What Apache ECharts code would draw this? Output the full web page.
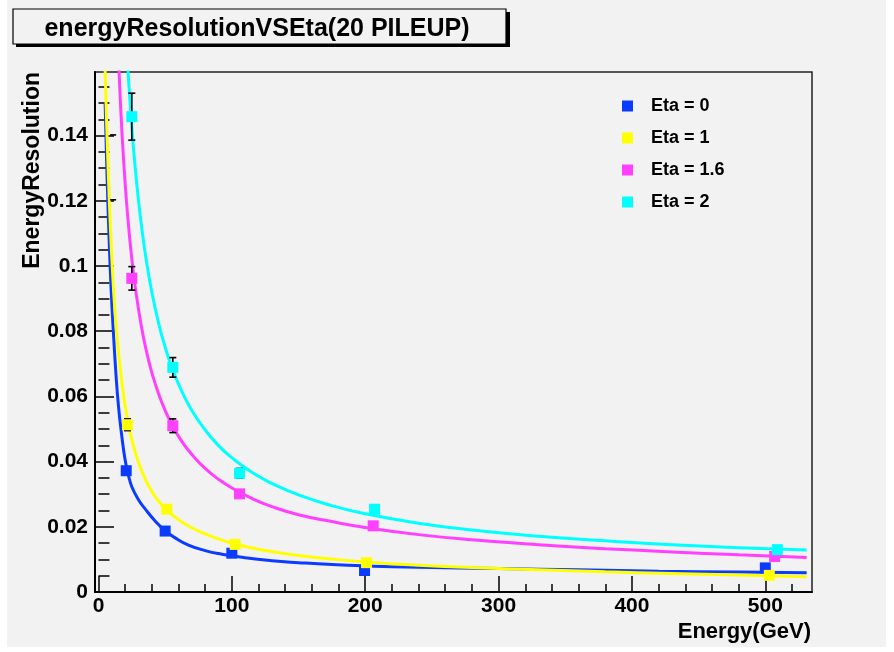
<!DOCTYPE html>
<html>
<head>
<meta charset="utf-8">
<script src="https://cdn.jsdelivr.net/npm/echarts@6/dist/echarts.min.js"></script>
<style>
html,body{margin:0;padding:0;background:#ffffff;}
#c{width:894px;height:652px;}
</style>
</head>
<body>
<div id="c"></div>
<script>
// ---------------- data ----------------
const seriesNames = ['Eta = 0', 'Eta = 1', 'Eta = 1.6', 'Eta = 2'];
const chartTitle = 'energyResolutionVSEta(20 PILEUP)';
const xTitle = 'Energy(GeV)';
const yTitle = 'EnergyResolution';

// measured points (energy, resolution, error)
const energy0 = [20.8, 50, 100, 199.5, 500];
const reso0   = [0.0372, 0.0187, 0.0119, 0.0066, 0.0074];
const err0    = [0.0010, 0.0006, 0.0004, 0.0003, 0.0003];

const energy1 = [21.75, 51.25, 102.5, 201, 503];
const reso1   = [0.0513, 0.0254, 0.0146, 0.0090, 0.0051];
const err1    = [0.0018, 0.0008, 0.0005, 0.0004, 0.0003];

const energy16 = [25, 55.75, 105.75, 206, 507];
const reso16   = [0.0962, 0.0510, 0.0301, 0.0203, 0.0109];
const err16    = [0.0036, 0.0021, 0.0010, 0.0007, 0.0005];

const energy2 = [25, 55.75, 105.75, 207, 509];
const reso2   = [0.1458, 0.0689, 0.0364, 0.0254, 0.0130];
const err2    = [0.0072, 0.0030, 0.0015, 0.0010, 0.0006];

// stray error-bar caps near E ~ 11
const strayCapE = [11, 11];
const strayCapR = [0.1402, 0.1203];

// fitted curves
const fitE0 = [5, 6, 7, 8, 9, 10, 11.5, 13, 15, 17.5, 20, 22.5, 25, 30, 35, 42.5, 50, 57.5, 67.5, 80, 92.5, 110, 130, 150, 175, 200, 240, 300, 360, 420, 480, 531];
const fitR0 = [0.150, 0.134, 0.120, 0.108, 0.0975, 0.0885, 0.0775, 0.0675, 0.0570, 0.0478, 0.0405, 0.0358, 0.0323, 0.0283, 0.0255, 0.0218, 0.0188, 0.0166, 0.0144, 0.0127, 0.0116, 0.0105, 0.0096, 0.0090, 0.0084, 0.0080, 0.0076, 0.0072, 0.0068, 0.0064, 0.0061, 0.0059];

const fitE1 = [5, 6, 7, 8, 9, 10, 11.5, 13, 15, 17.5, 20, 23, 26, 30, 35, 40, 45, 51, 60, 70, 80, 90, 100, 115, 130, 150, 175, 200, 240, 280, 330, 380, 430, 480, 531];
const fitR1 = [0.160, 0.1455, 0.133, 0.1215, 0.1115, 0.1025, 0.0915, 0.0825, 0.0735, 0.0645, 0.0572, 0.0505, 0.0452, 0.0398, 0.0347, 0.0308, 0.0279, 0.0253, 0.0222, 0.0197, 0.0178, 0.0163, 0.0150, 0.0135, 0.0124, 0.0112, 0.0101, 0.0092, 0.0082, 0.0075, 0.0068, 0.0062, 0.0057, 0.0052, 0.0047];

const fitE16 = [15, 16, 17, 18, 20, 22, 25, 28, 32, 36, 40, 45, 50, 56, 63, 70, 80, 90, 100, 115, 130, 150, 175, 200, 240, 280, 330, 380, 430, 480, 531];
const fitR16 = [0.1639, 0.1543, 0.1458, 0.1382, 0.1254, 0.1149, 0.1022, 0.0923, 0.0819, 0.0738, 0.0673, 0.0609, 0.0557, 0.0506, 0.0459, 0.0422, 0.0379, 0.0346, 0.0319, 0.0287, 0.0262, 0.0237, 0.0216, 0.0198, 0.0176, 0.0160, 0.0145, 0.0133, 0.0123, 0.0114, 0.0106];

const fitE2 = [21, 22, 23, 24, 25, 27, 30, 33, 36, 40, 45, 50, 56, 63, 70, 80, 90, 100, 115, 130, 150, 175, 200, 240, 280, 330, 380, 430, 480, 531];
const fitR2 = [0.1684, 0.1611, 0.1544, 0.1483, 0.1426, 0.1326, 0.1201, 0.1099, 0.1014, 0.0920, 0.0826, 0.0751, 0.0678, 0.0611, 0.0557, 0.0497, 0.0449, 0.0412, 0.0367, 0.0333, 0.0298, 0.0265, 0.0240, 0.0211, 0.0190, 0.0171, 0.0157, 0.0145, 0.0136, 0.0129];

// axis ticks
const xMajorTicks = [0, 100, 200, 300, 400, 500];
const xMinorTicks = [20, 40, 60, 80, 120, 140, 160, 180, 220, 240, 260, 280, 320, 340, 360, 380, 420, 440, 460, 480, 520];
const yMajorTicks = [0, 0.02, 0.04, 0.06, 0.08, 0.1, 0.12, 0.14];
const yMinorTicks = [0.005, 0.01, 0.015, 0.025, 0.03, 0.035, 0.045, 0.05, 0.055, 0.065, 0.07, 0.075, 0.085, 0.09, 0.095, 0.105, 0.11, 0.115, 0.125, 0.13, 0.135, 0.145, 0.15, 0.155];

// ---------------- chart ----------------
const colors = ['#0b3bff', '#ffff00', '#ff40ff', '#00ffff'];
const FONT = '"Liberation Sans", Arial, Helvetica, sans-serif';
const X_MIN = -2.6, X_MAX = 535, Y_MIN = 0, Y_MAX = 0.1595;

function zip(a, b) { return a.map((v, i) => [v, b[i]]); }
function zip3(a, b, c) { return a.map((v, i) => [v, b[i], c[i]]); }

const pointSets = [
  [energy0, reso0, err0],
  [energy1, reso1, err1],
  [energy16, reso16, err16],
  [energy2, reso2, err2]
];
const fitSets = [[fitE0, fitR0], [fitE1, fitR1], [fitE16, fitR16], [fitE2, fitR2]];

function errorBarRender(params, api) {
  const x = api.value(0), y = api.value(1), e = api.value(2);
  const top = api.coord([x, y + e]);
  const bot = api.coord([x, y - e]);
  const h = 3.5;
  const st = { stroke: '#000', lineWidth: 1.6 };
  return {
    type: 'group',
    children: [
      { type: 'line', shape: { x1: top[0], y1: top[1], x2: bot[0], y2: bot[1] }, style: st },
      { type: 'line', shape: { x1: top[0] - h, y1: top[1], x2: top[0] + h, y2: top[1] }, style: st },
      { type: 'line', shape: { x1: bot[0] - h, y1: bot[1], x2: bot[0] + h, y2: bot[1] }, style: st }
    ]
  };
}
function capRender(params, api) {
  const p = api.coord([api.value(0), api.value(1)]);
  return { type: 'line', shape: { x1: p[0] - 3, y1: p[1], x2: p[0] + 3, y2: p[1] }, style: { stroke: '#000', lineWidth: 1.6 } };
}

const series = [];
fitSets.forEach((f, i) => {
  series.push({
    name: 'fit ' + seriesNames[i], type: 'line', data: zip(f[0], f[1]),
    showSymbol: false, symbol: 'none', smooth: 0.5,
    lineStyle: { color: colors[i], width: 3 }, clip: true, silent: true, z: 2
  });
});
pointSets.forEach((p, i) => {
  series.push({
    name: 'err ' + seriesNames[i], type: 'custom', data: zip3(p[0], p[1], p[2]),
    renderItem: errorBarRender, clip: true, silent: true, z: 3
  });
});
series.push({
  name: 'caps', type: 'custom', data: zip(strayCapE, strayCapR),
  renderItem: capRender, clip: true, silent: true, z: 3
});
pointSets.forEach((p, i) => {
  series.push({
    name: seriesNames[i], type: 'scatter', data: zip(p[0], p[1]),
    symbol: 'rect', symbolSize: 11, itemStyle: { color: colors[i], opacity: 1 },
    silent: true, z: 4 + i
  });
});

const labelStyle = { fontFamily: FONT, fontSize: 21, fontWeight: 'bold', color: '#000' };

const option = {
  animation: false,
  backgroundColor: '#ffffff',
  textStyle: { fontFamily: FONT },
  grid: { left: 95, right: 82, top: 72, bottom: 60, containLabel: false, outerBoundsMode: 'none',
          show: true, borderColor: '#222', borderWidth: 1.5, backgroundColor: 'transparent' },
  legend: {
    data: seriesNames, icon: 'rect', orient: 'vertical', left: 617, top: 92,
    itemWidth: 11, itemHeight: 11, itemGap: 14, selectedMode: false,
    textStyle: { fontFamily: FONT, fontSize: 18, fontWeight: 'bold', color: '#000', padding: [0, 0, 0, 13] }
  },
  xAxis: [
    { type: 'value', min: X_MIN, max: X_MAX, position: 'bottom',
      axisLine: { show: true, onZero: false, lineStyle: { color: '#000', width: 2 } },
      axisTick: { show: true, inside: true, length: 16, customValues: xMajorTicks, lineStyle: { color: '#000', width: 1.5 } },
      axisLabel: Object.assign({ customValues: xMajorTicks, margin: 4 }, labelStyle),
      splitLine: { show: false } },
    { type: 'value', min: X_MIN, max: X_MAX, position: 'bottom',
      axisLine: { show: false },
      axisTick: { show: true, inside: true, length: 8, customValues: xMinorTicks, lineStyle: { color: '#000', width: 1.5 } },
      axisLabel: { show: false }, splitLine: { show: false } }
  ],
  yAxis: [
    { type: 'value', min: Y_MIN, max: Y_MAX, position: 'left',
      axisLine: { show: true, onZero: false, lineStyle: { color: '#000', width: 2 } },
      axisTick: { show: true, inside: true, length: 19, customValues: yMajorTicks, lineStyle: { color: '#000', width: 1.5 } },
      axisLabel: Object.assign({ customValues: yMajorTicks, margin: 7 }, labelStyle),
      splitLine: { show: false } },
    { type: 'value', min: Y_MIN, max: Y_MAX, position: 'left',
      axisLine: { show: false },
      axisTick: { show: true, inside: true, length: 11, customValues: yMinorTicks, lineStyle: { color: '#000', width: 1.5 } },
      axisLabel: { show: false }, splitLine: { show: false } }
  ],
  graphic: [
    { type: 'rect', z: -100, silent: true, shape: { x: 7, y: 0, width: 879, height: 647 }, style: { fill: '#f2f2f2' } },
    { type: 'rect', z: 10, silent: true, shape: { x: 16, y: 12, width: 494, height: 35 }, style: { fill: '#000' } },
    { type: 'rect', z: 11, silent: true, shape: { x: 13, y: 9, width: 493, height: 35 }, style: { fill: '#f2f2f2', stroke: '#000', lineWidth: 1.2 } },
    { type: 'text', z: 12, silent: true, x: 257, y: 29,
      style: { text: chartTitle, fill: '#000', font: 'bold 25px ' + FONT, textAlign: 'center', textVerticalAlign: 'middle' } },
    { type: 'text', z: 12, silent: true, x: 811, y: 632,
      style: { text: xTitle, fill: '#000', font: 'bold 22px ' + FONT, textAlign: 'right', textVerticalAlign: 'middle' } },
    { type: 'text', z: 12, silent: true, x: 33, y: 72, rotation: Math.PI / 2,
      style: { text: yTitle, fill: '#000', font: 'bold 23px ' + FONT, textAlign: 'right', textVerticalAlign: 'middle' } }
  ],
  series: series
};

const chart = echarts.init(document.getElementById('c'), null, { renderer: 'canvas' });
chart.setOption(option);
</script>
</body>
</html>
